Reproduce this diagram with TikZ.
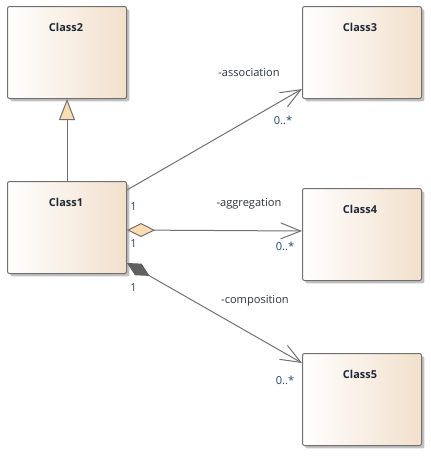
\documentclass[tikz,border=0pt]{standalone}
\usepackage{fontspec}
\setmainfont{Open Sans}
\usetikzlibrary{arrows.meta,shadows}
\definecolor{edgegray}{RGB}{112,112,112}
\definecolor{boxtan}{RGB}{242,224,204}
\definecolor{tipfill}{RGB}{250,222,176}
\definecolor{compfill}{RGB}{96,96,96}
\definecolor{namecol}{RGB}{30,40,55}
\definecolor{rolecol}{RGB}{45,50,65}
\definecolor{multcol}{RGB}{38,70,110}
\tikzset{
  classbox/.style={draw=edgegray, line width=0.75pt, rounded corners=1.5pt,
    left color=white, right color=boxtan, anchor=north west,
    minimum width=89.25pt, minimum height=69pt, inner sep=0pt,
    drop shadow={shadow xshift=2.2pt, shadow yshift=-2.2pt, fill=black!35, opacity=0.7}},
  classname/.style={font=\fontsize{8.2}{10}\selectfont\bfseries, text=namecol, inner sep=0pt},
  rolelabel/.style={font=\fontsize{8.3}{10}\selectfont, text=rolecol, inner sep=0pt},
  multlabel/.style={font=\fontsize{8.3}{10}\selectfont, text=multcol, inner sep=0pt},
  link/.style={draw=edgegray, line width=0.75pt},
  barb/.tip={Straight Barb[length=15pt, width=12pt, line width=0.75pt]},
  hollowdiamond/.tip={Diamond[length=21pt, width=10.5pt, fill=tipfill, line width=0.75pt]},
  soliddiamond/.tip={Diamond[length=19.5pt, width=10pt, fill=compfill, color=compfill]},
  hollowtriangle/.tip={Triangle[length=15.75pt, width=12pt, fill=tipfill, line width=0.75pt]},
}
\begin{document}
\begin{tikzpicture}[x=0.75pt, y=-0.75pt]
  \useasboundingbox (0,0) rectangle (431,458);

  % classes
  \node[classbox] (c2) at (7,6) {};
  \node[classbox] (c1) at (7,181) {};
  \node[classbox] (c3) at (302,6) {};
  \node[classbox] (c4) at (302,188) {};
  \node[classbox] (c5) at (302,353) {};

  \node[classname] (n2) at (66,27) {Class2};
  \node[classname] (n1) at (66,202) {Class1};
  \node[classname] (n3) at (360,27) {Class3};
  \node[classname] (n4) at (360,209) {Class4};
  \node[classname] (n5) at (360,374) {Class5};

  % generalization
  \draw[link, -hollowtriangle] (c1.north) -- (c2.south);

  % association
  \coordinate (as1) at ([yshift=-6.75pt]c1.north east);
  \coordinate (as2) at ([yshift=7.5pt]c3.south west);
  \draw[link, -barb] (as1) -- (as2);

  % aggregation
  \coordinate (ag1) at ([yshift=-36.75pt]c1.north east);
  \coordinate (ag2) at ([yshift=-32.25pt]c4.north west);
  \draw[link, hollowdiamond-barb] (ag1) -- (ag2);

  % composition
  \coordinate (cp1) at ([yshift=-61.5pt]c1.north east);
  \coordinate (cp2) at ([yshift=-7.5pt]c5.north west);
  \draw[link, soliddiamond-barb] (cp1) -- (cp2);

  % role names and multiplicities
  \node[rolelabel] (r3) at (249,72) {-association};
  \node[rolelabel] (r4) at (249,204) {-aggregation};
  \node[rolelabel] (r5) at (255,301) {-composition};

  \node[multlabel] (m3) at (283,120) {0..*};
  \node[multlabel] (m4) at (285,246) {0..*};
  \node[multlabel] (m5) at (285,380) {0..*};

  \node[multlabel] (o3) at (133.5,207) {1};
  \node[multlabel] (o4) at (133.5,244) {1};
  \node[multlabel] (o5) at (133.5,288) {1};
\end{tikzpicture}
\end{document}
